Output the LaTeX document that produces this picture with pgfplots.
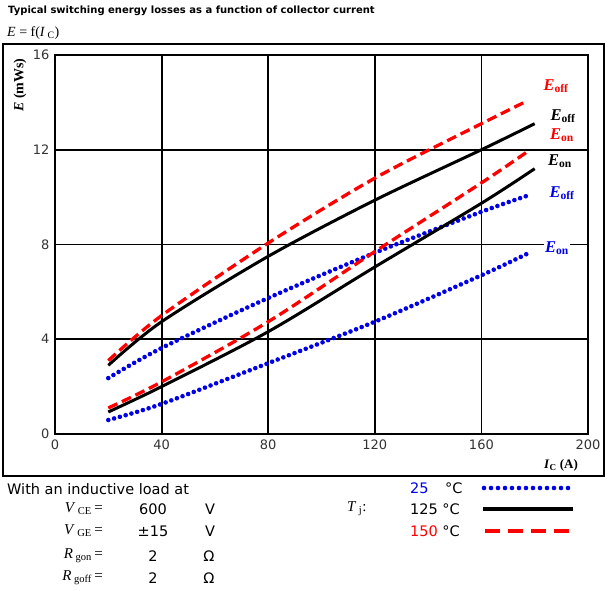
\documentclass[border=0pt]{standalone}
\usepackage{pgfplots}
\pgfplotsset{compat=1.18}
\usepackage{fontspec}
\setmainfont{DejaVu Sans}
\newfontfamily\serif{Liberation Serif}
\definecolor{dblue}{RGB}{0,0,230}
\definecolor{dred}{RGB}{255,0,0}
\tikzset{
  blued/.style={dblue, line width=4.6pt, line cap=round, dash pattern=on 0pt off 6pt},
  blacks/.style={black, line width=3pt},
  redd/.style={dred, line width=3.3pt, dash pattern=on 10pt off 5pt},
}
\begin{document}
\begin{tikzpicture}[x=1pt,y=1pt]
\path[use as bounding box] (0,0) rectangle (608,-591);
\draw[line width=1.4pt] (3,-44) rectangle (604,-476);
\node[anchor=west, inner sep=0, font=\bfseries\fontsize{10}{12}\selectfont] at (8,-11) {Typical switching energy losses as a function of collector current};
\node[anchor=west, inner sep=0, font=\serif\fontsize{14}{16}\selectfont] at (7,-33) {\textit{E} = f(\textit{I}\,\textsubscript{C})};
\begin{axis}[
  at={(55pt,-434pt)}, anchor=south west, scale only axis,
  width=533pt, height=379pt,
  xmin=0, xmax=200, ymin=0, ymax=16,
  xtick={0,40,...,200}, ytick={0,4,...,16},
  grid=major, grid style={black, line width=1.8pt},
  axis line style={line width=1.8pt},
  major tick length=0pt,
  ticklabel style={font=\fontsize{13}{15}\selectfont, text=black!80},
  xticklabel style={yshift=-2pt},
  yticklabel style={xshift=-2pt},
  /pgf/number format/assume math mode=true,
  clip=false,
]
% 25 C
\addplot[blued, smooth] coordinates {(20,0.59) (40,1.27) (80,2.99) (120,4.74) (160,6.70) (177,7.60)};
\addplot[blued, smooth] coordinates {(20,2.36) (40,3.63) (80,5.74) (120,7.65) (160,9.38) (177,10.05)};
% 125 C
\addplot[blacks, smooth] coordinates {(20,0.93) (40,2.0) (80,4.32) (120,7.05) (160,9.74) (180,11.2)};
\addplot[blacks, smooth] coordinates {(20,2.9) (40,4.74) (80,7.5) (120,9.87) (160,12.0) (180,13.1)};
% 150 C
\addplot[redd, smooth] coordinates {(20,1.1) (40,2.2) (80,4.74) (120,7.7) (160,10.6) (177,11.9)};
\addplot[redd, smooth] coordinates {(20,3.1) (40,5.0) (80,8.06) (120,10.8) (160,13.1) (177,14.05)};
\end{axis}
% curve labels
\begin{scope}[every node/.style={inner sep=1pt, font=\serif\bfseries\fontsize{16.5}{18}\selectfont}]
\node[text=dred] at (556,-86) {\textit{E}\textsubscript{off}};
\node[text=black] at (563,-116) {\textit{E}\textsubscript{off}};
\node[text=dred] at (562,-135) {\textit{E}\textsubscript{on}};
\node[text=black] at (560,-161) {\textit{E}\textsubscript{on}};
\node[text=dblue] at (562,-193) {\textit{E}\textsubscript{off}};
\node[text=dblue, fill=white] at (557,-248) {\textit{E}\textsubscript{on}};
\end{scope}
% axis labels
\node[rotate=90, inner sep=0, font=\serif\bfseries\fontsize{14}{16}\selectfont] at (20,-85) {\textit{E} (mWs)};
\node[inner sep=0, font=\serif\bfseries\fontsize{13}{15}\selectfont] at (561,-465) {\textit{I}\textsubscript{C} (A)};
% conditions
\begin{scope}[every node/.style={inner sep=0, font=\fontsize{14.5}{16}\selectfont}]
\node[anchor=west] at (7,-489) {With an inductive load at};
\node[anchor=east, font=\serif\fontsize{15}{17}\selectfont] at (103,-509) {\textit{V}\,\textsubscript{CE}\,=};
\node[anchor=east, font=\serif\fontsize{15}{17}\selectfont] at (103,-531) {\textit{V}\,\textsubscript{GE}\,=};
\node[anchor=east, font=\serif\fontsize{15}{17}\selectfont] at (103,-556) {\textit{R}\,\textsubscript{gon}\,=};
\node[anchor=east, font=\serif\fontsize{15}{17}\selectfont] at (103,-578) {\textit{R}\,\textsubscript{goff}\,=};
\node at (153,-509) {600};
\node at (153,-531) {±15};
\node at (153,-556) {2};
\node at (153,-578) {2};
\node at (210,-509) {V};
\node at (210,-531) {V};
\node at (209,-556) {Ω};
\node at (209,-578) {Ω};
\node[anchor=west, font=\serif\fontsize{15}{17}\selectfont] at (347,-509) {\textit{T}\,\textsubscript{j}:};
\node[anchor=west, text=dblue] at (410,-488) {25};
\node[anchor=west] at (445,-488) {°C};
\node[anchor=west] at (410,-509) {125 °C};
\node[anchor=west] at (410,-531) {\textcolor{dred}{150} °C};
\end{scope}
\draw[blued, dash pattern=on 0pt off 7pt] (484,-488) -- (575,-488);
\draw[black, line width=4.5pt] (483,-509) -- (573,-509);
\draw[dred, line width=4.5pt, dash pattern=on 15pt off 8pt] (485,-531) -- (573,-531);
\end{tikzpicture}
\end{document}
